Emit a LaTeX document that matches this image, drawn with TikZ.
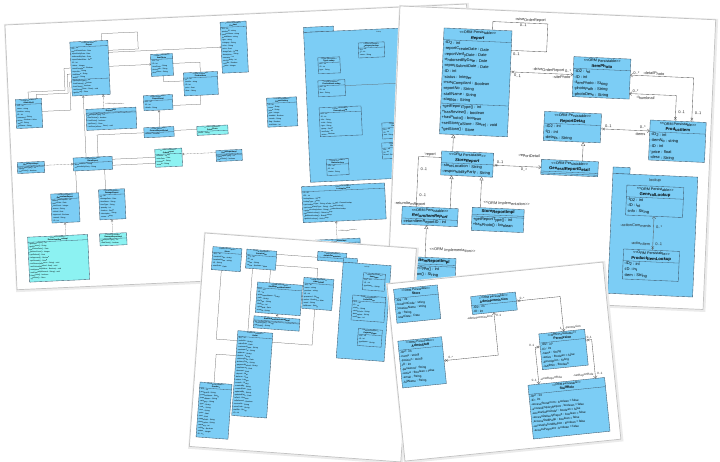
\documentclass[tikz,border=0pt]{standalone}
\usepackage{fontspec}
\setmainfont{Liberation Sans}
\usetikzlibrary{arrows.meta,calc,shapes.misc}
\definecolor{ub}{RGB}{124,205,245}
\definecolor{ubd}{RGB}{62,88,108}
\definecolor{uc}{RGB}{140,242,242}
\definecolor{ln}{RGB}{90,90,90}
\newcommand\ster{<\kern0pt<ORM Persistable>\kern0pt>}
\newcommand\simpl{<\kern0pt<ORM Implementation>\kern0pt>}
\tikzset{
 clsbox/.style={draw=ubd, line width=0.35pt, anchor=north west, inner sep=0pt, outer sep=0pt, transform shape},
 pkg/.style={draw=ubd, fill=ub, line width=0.35pt, anchor=north west, inner sep=0pt, outer sep=0pt, transform shape},
 sep/.style={draw=ubd, line width=0.3pt},
 con/.style={draw=ln, line width=0.35pt},
 nav/.style={arrows={-Straight Barb[length=2.2pt,width=3.6pt]}},
 navs/.style={arrows={Straight Barb[length=2.2pt,width=3.6pt]-}},
 gen/.style={arrows={-Triangle[length=3.6pt,width=4pt,fill=white]}},
 rz/.style={dash pattern=on 0.8pt off 0.6pt},
 xm/.style={cross out, draw=ln, line width=0.3pt, minimum size=2.2pt, inner sep=0pt, transform shape},
 stt/.style={anchor=base, inner sep=0pt, transform shape},
 ttl/.style={anchor=base, inner sep=0pt, transform shape},
 att/.style={anchor=north west, inner sep=0pt, align=left, transform shape},
 lbl/.style={inner sep=0pt, transform shape, text=black!85},
}
\newcommand\ucls[8]{%
  \node[clsbox, fill=#6, minimum width=#4, minimum height=#5] (#1) at (#2,#3) {};
  \node[stt] (#1-s) at ({#2+#4/2},{#3+\csty}) {\ster};
  \node[ttl] (#1-n) at ({#2+#4/2},{#3+\ctty}) {#7};
  \draw[sep] (#2,{#3+\chh}) -- ({#2+#4},{#3+\chh});
  \node[att] (#1-a) at ({#2+\cax},{#3+\chh+\cay}) {#8};
}
\newcommand\uimpl[8]{%
  \node[clsbox, fill=#6, minimum width=#4, minimum height=#5] (#1) at (#2,#3) {};
  \node[ttl] (#1-n) at ({#2+#4/2},{#3+\cib}) {#7};
  \draw[sep] (#2,{#3+\cis}) -- ({#2+#4},{#3+\cis});
  \draw[sep] (#2,{#3+\cis+\cig}) -- ({#2+#4},{#3+\cis+\cig});
  \node[att] (#1-a) at ({#2+\cax},{#3+\cis+\cig+\cay}) {#8};
}
\newcommand\sheet[2]{%
  \fill[black!8] (-1,-1) rectangle ({#1+2.4},{#2+2.4});
  \filldraw[fill=white, draw=black!24, line width=0.7pt] (0,0) rectangle (#1,#2);
}
\begin{document}
\begin{tikzpicture}[x=1pt,y=-1pt,line join=round]
\useasboundingbox (0,0) rectangle (720,462);
\fill[white] (0,0) rectangle (720,462);

%% ================= Sheet A (back, top left) =================
\begin{scope}[shift={(5,25)}, rotate=2.6,
  stt/.append style={font=\fontsize{1.6}{2}\selectfont},
  ttl/.append style={font=\bfseries\fontsize{1.9}{2.3}\selectfont},
  att/.append style={font=\fontsize{1.8}{2.9}\selectfont},
  lbl/.append style={font=\fontsize{1.6}{2}\selectfont},
  con/.append style={line width=0.25pt},
  nav/.style={arrows={-Straight Barb[length=1.2pt,width=2pt]}},
  gen/.style={arrows={-Triangle[length=2pt,width=2.4pt,fill=white]}}]
\def\csty{2.0}\def\ctty{4.3}\def\chh{5.2}\def\cay{0.5}\def\cax{0.8}
\def\cib{2.8}\def\cis{3.8}\def\cig{0.9}
\sheet{462}{265}
\ucls{a1}{64}{20}{38}{54}{ub}{\itshape Report}{-ID2 : int\\-reportCreateDate : Date\\-reportVerifyDate : Date\\-endorsedByDate : Date\\-reportSubmitDate : Date\\-ID : int\\-status : Integer\\-mustCompliant : Boolean\\-reportNo : String\\-staffName : String\\-staffNo : String}
\draw[sep] (64,57.7) -- (102,57.7);
\node[att] (a1-m) at (64.8,58.2) {+getReportType() : int\\+hasReview() : boolean\\+hasPhoto() : boolean\\+setStore(aStore : Store) : void\\+getStore() : Store};
\ucls{a2}{7}{75}{26}{29}{ub}{AdminStaff}{-ID2 : int\\-name : string\\-position : string\\-ID : int\\-password : String\\-active : Boolean = false\\-email : String\\-fullName : String}
\ucls{a3}{144}{36}{22}{22}{ub}{ItemPhoto}{-ID2 : int\\-ID : int\\-itemPhoto : String\\-photoPath : String\\-photoDesc : String}
\ucls{a4}{176}{56}{34}{23}{ub}{ProductItem}{-ID2 : int\\-itemNo : string\\-ID : int\\-price : float\\-desc : String}
\ucls{a5}{215}{7}{26}{51}{ub}{Product}{-ID2 : int\\-productID : string\\-productName : string\\-brandName : string\\-type : string\\-category : String\\-color : String\\-price : float\\-imagePath : String\\-description : String\\-warranty : int\\-minQuantity : int\\-onSale : Boolean\\-status : Integer}
\uimpl{a6}{77}{88}{50}{21}{ub}{ReportImpl}{+getReportType() : int\\+hasReview() : boolean\\+hasPhoto() : boolean\\+getStore() : Store\\+setStore(aStore : Store) : void}
\ucls{a7}{135}{77}{29}{15}{ub}{ReportDetail}{-ID2 : int\\-ID : int\\-details : String}
\ucls{a8}{134}{109}{30}{10}{ub}{GeneralReportDetail}{-isPhoto : Boolean}
\ucls{a9}{187}{110}{31}{9}{uc}{DetailPhoto}{-photo : String}
\ucls{a10}{62}{136}{39}{13}{ub}{\itshape StoreReport}{-storeLocation : String\\-responsibilityParty : String}
\ucls{a11}{144}{131}{27}{18}{uc}{OrderReport}{-orderNo : String\\-orderDate : Date\\-customer : String\\-remark : String}
\uimpl{a12}{205}{135}{26}{11}{ub}{OrderReportImpl}{+getReportType() : int\\+hasPhoto() : boolean}
\uimpl{a13}{6}{138}{27}{11}{ub}{StoreReportImpl}{+getReportType() : int\\+hasPhoto() : boolean}
\ucls{a14}{38}{171}{28}{29}{ub}{\itshape ReturnItemReport}{-returnItemReportID : int\\-returnDate : Date\\-itemCount : Integer\\-reason : String\\-refund : float\\-approved : Boolean\\-remark : String\\-ID : int}
\ucls{a15}{86}{169}{26}{30}{ub}{DamageReport}{-ID : int\\-damageDate : Date\\-itemName : String\\-itemType : String\\-quantity : int\\-location : String\\-description : String\\-cause : String}
\ucls{a16}{13}{213}{60}{45}{uc}{ReturnItemReportImpl}{+getReportType() : int\\+getReason() : String\\+getReturnDate() : Date\\+getItemCount() : Integer\\+getRefund() : float\\+isApproved() : Boolean\\+getRemark() : String\\+setReason(aReason : String) : void\\+setRefund(aRefund : float) : void\\+setApproved(aValue : Boolean) : void\\+setRemark(aRemark : String) : void\\+hasPhoto() : boolean\\+getStore() : Store}
\ucls{a17}{85}{213}{27}{12}{uc}{DamageReportImpl}{+getReportType() : int\\+hasPhoto() : boolean}
\node[pkg, minimum width=30, minimum height=5] (a18t) at (298,16) {};
\node[pkg, minimum width=150, minimum height=150] (a18) at (298,21) {};
\node[lbl, anchor=base] (a18n) at (373,24.5) {lookup};
\ucls{a18a}{352}{34}{26}{15}{ub}{CategoryLookup}{-ID2 : int\\-ID : int\\-name : String}
\ucls{a18b}{311}{47}{22}{16}{ub}{TypeLookup}{-ID2 : int\\-ID : int\\-type : String}
\ucls{a18c}{310}{70}{27}{16}{ub}{ProductItemLookup}{-ID2 : int\\-ID : int\\-item : String}
\ucls{a18d}{310}{97}{42}{29}{ub}{GeneralLookup}{-ID2 : int\\-ID : int\\-info : String\\-code : String\\-type : String\\-group : String\\-sortOrder : int\\-active : Boolean}
\ucls{a18e}{315}{149}{22}{16}{ub}{StatusLookup}{-ID2 : int\\-ID : int\\-status : String}
\ucls{a18f}{372}{115}{30}{16}{ub}{UnitLookup}{-ID2 : int\\-ID : int\\-unit : String}
\ucls{a18g}{371}{135}{30}{16}{ub}{BrandLookup}{-ID2 : int\\-ID : int\\-brand : String}
\ucls{a19}{258}{85}{30}{29}{ub}{ReportSetting}{-ID : int\\-name : String\\-value : String\\-type : Integer\\-enabled : Boolean\\-remark : String\\-flag : Boolean\\-sortOrder : int}
\ucls{a20}{289}{175}{83}{36}{ub}{LookupService}{-ID : int\\-ID2 : int\\-lookupName : String\\-lookupType : String\\+getLookup(aType : String, aCode : String) : GeneralLookup\\+getLookupList(aType : String) : GeneralLookup[]\\+getItemLookup(aItem : String) : ProductItemLookup\\+getStatusLookup() : StatusLookup\\+getBrandLookup() : BrandLookup\\+getUnitLookup() : UnitLookup}
\uimpl{a21}{300}{229}{45}{10}{ub}{LookupServiceImpl}{+getLookup(aType : String) : GeneralLookup}
\coordinate (a18x) at (400,76);
% connectors A
\draw[con] ($(a1.north west)!26pt!(a1.south west)$) -- (57,46) -- (57,68) -- (20,68) -- ($(a2.north west)!13pt!(a2.north east)$);
\draw[con] ($(a1.north west)!32pt!(a1.south west)$) -- (60,52) -- (60,71) -- (28,71) -- ($(a2.north west)!21pt!(a2.north east)$);
\draw[con] ($(a1.north west)!40pt!(a1.south west)$) -- (62,60) -- (62,88) -- ($(a2.north east)!13pt!(a2.south east)$);
\draw[con] ($(a1.north west)!32pt!(a1.north east)$) -- (96,13) -- (132,13) -- (132,30) -- ($(a1.north east)!10pt!(a1.south east)$);
\draw[con,nav] ($(a1.north east)!12pt!(a1.south east)$) -- ($(a5.north west)!25pt!(a5.south west)$);
\draw[con,nav] ($(a1.north east)!26pt!(a1.south east)$) -- ($(a3.north west)!10pt!(a3.south west)$);
\draw[con] ($(a3.north east)!10pt!(a3.south east)$) -- (193,46) -- ($(a4.north west)!17pt!(a4.north east)$);
\draw[con] ($(a3.south west)!12pt!(a3.south east)$) -- (156,64) -- ($(a4.north west)!8pt!(a4.south west)$);
\draw[con] ($(a7.north east)!11pt!(a7.south east)$) -- (192,88) -- ($(a4.south west)!16pt!(a4.south east)$);
\draw[con,gen] ($(a8.north west)!16pt!(a8.north east)$) -- ($(a7.south west)!15pt!(a7.south east)$);
\draw[con,gen,rz] ($(a6.north west)!18pt!(a6.north east)$) -- ($(a1.south west)!31pt!(a1.south east)$);
\node[lbl, anchor=west] (al2) at (96.5,84) {\simpl};
\draw[con,gen] ($(a10.north west)!13pt!(a10.north east)$) -- ($(a1.south west)!11pt!(a1.south east)$);
\draw[con] ($(a10.north west)!25pt!(a10.north east)$) -- (87,114) -- ($(a8.north west)!5pt!(a8.south west)$);
\draw[con] ($(a8.north east)!4pt!(a8.south east)$) -- ($(a9.north west)!3pt!(a9.south west)$);
\draw[con] ($(a10.north east)!3pt!(a10.south east)$) -- ($(a11.north west)!8pt!(a11.south west)$);
\draw[con] ($(a10.north east)!9pt!(a10.south east)$) -- ($(a11.north west)!14pt!(a11.south west)$);
\draw[con,gen,rz] ($(a12.north west)!2pt!(a12.south west)$) -- ($(a11.north east)!6pt!(a11.south east)$);
\draw[con,gen,rz] ($(a13.north east)!4pt!(a13.south east)$) -- ($(a10.north west)!6pt!(a10.south west)$);
\draw[con] ($(a10.south west)!2pt!(a10.south east)$) -- ($(a14.north west)!26pt!(a14.north east)$);
\draw[con] ($(a10.south west)!31pt!(a10.south east)$) -- ($(a15.north west)!7pt!(a15.north east)$);
\draw[con,gen,rz] ($(a16.north west)!38pt!(a16.north east)$) -- ($(a14.south west)!13pt!(a14.south east)$);
\draw[con,gen,rz] ($(a17.north west)!13pt!(a17.north east)$) -- ($(a15.south west)!12pt!(a15.south east)$);
\draw[con] ($(a18c.north east)!6pt!(a18c.south east)$) -- (a18x);
\draw[con,gen,rz] ($(a21.north west)!22pt!(a21.north east)$) -- ($(a20.south west)!33pt!(a20.south east)$);
\node[lbl, anchor=west] (al1) at (323.5,221) {\simpl};
\end{scope}

%% ================= Sheet D (top right) =================
\begin{scope}[shift={(400,6)}, rotate=-2.5,
  stt/.append style={font=\fontsize{3.7}{4}\selectfont},
  ttl/.append style={font=\bfseries\fontsize{4.2}{5}\selectfont},
  att/.append style={font=\fontsize{4.0}{5.7}\selectfont},
  lbl/.append style={font=\fontsize{3.9}{4.5}\selectfont}]
\def\csty{4.4}\def\ctty{10.0}\def\chh{11.7}\def\cay{1.0}\def\cax{1.2}
\def\cib{4.8}\def\cis{6.8}\def\cig{1.8}
\sheet{316}{290}
\ucls{rep}{45}{20}{68}{106}{ub}{\itshape Report}{-ID2 : int\\-reportCreateDate : Date\\-reportVerifyDate : Date\\-endorsedByDate : Date\\-reportSubmitDate : Date\\-ID : int\\-status : Integer\\-mustCompliant : Boolean\\-reportNo : String\\-staffName : String\\-staffNo : String}
\draw[sep] (45,95.2) -- (113,95.2);
\node[att] (rep-m) at (46.2,96.2) {+getReportType() : int\\+hasReview() : boolean\\+hasPhoto() : boolean\\+setStore(aStore : Store) : void\\+getStore() : Store};
\ucls{ip}{176}{43}{57}{40}{ub}{ItemPhoto}{-ID2 : int\\-ID : int\\-itemPhoto : String\\-photoPath : String\\-photoDesc : String}
\ucls{pitem}{255}{103}{56}{40}{ub}{ProductItem}{-ID2 : int\\-itemNo : string\\-ID : int\\-price : float\\-desc : String}
\ucls{rd}{149}{99}{57}{29}{ub}{ReportDetail}{-ID2 : int\\-ID : int\\-details : String}
\ucls{sr}{48}{143}{52}{24}{ub}{\itshape StoreReport}{-storeLocation : String\\-responsibilityParty : String}
\ucls{grd}{148}{147}{57}{15}{ub}{GeneralReportDetail}{}
\draw[sep] (148,160.5) -- (205,160.5);
\ucls{rir}{11}{200}{56}{18}{ub}{\itshape ReturnItemReport}{-returnItemReportID : int}
\uimpl{sri}{81}{198}{52}{23}{ub}{StoreReportImpl}{+getReportType() : int\\+hasPhoto() : boolean}
\uimpl{riri}{10}{250}{57}{23}{ub}{ReturnItemReportImpl}{+getReportType() : int\\+getReason() : String}
\node[pkg, minimum width=17, minimum height=6.5] (lkt) at (220,151.5) {};
\node[pkg, minimum width=85, minimum height=120] (lk) at (220,158) {};
\node[lbl, anchor=base] (lkn) at (262.5,164) {lookup};
\ucls{gl}{234.5}{169}{57}{30}{ub}{GeneralLookup}{-ID2 : int\\-ID : int\\-info : String}
\ucls{pil}{234}{233}{56}{30}{ub}{ProductItemLookup}{-ID2 : int\\-ID : int\\-item : String}
% connectors D
\draw[con] ($(rep.north west)!48.5pt!(rep.north east)$) -- (93.5,11.5) -- (148.5,11.5) -- (148.5,39.5) -- ($(rep.north east)!19.5pt!(rep.south east)$);
\node[lbl,anchor=south] (d1) at (131,10.6) {-wiseOrderReport};
\node[lbl,anchor=north] (d2) at (124,12.6) {0..1};
\node[lbl,anchor=north west] (d3) at (115,41.3) {0..1};
\draw[con,nav] ($(rep.north east)!41pt!(rep.south east)$) -- ($(ip.north west)!18pt!(ip.south west)$);
\node[xm] (dx1) at (115.8,61) {};
\node[lbl,anchor=north west] (d4) at (117,63) {0..1};
\node[lbl,anchor=south east] (d5) at (174,59.8) {-driveOrderReport 0..*};
\node[lbl,anchor=north east] (d6) at (173.5,62.5) {-sitePhoto};
\draw[con,navs] ($(ip.north east)!16pt!(ip.south east)$) -- (296.5,59) -- ($(pitem.north west)!41.5pt!(pitem.north east)$);
\node[xm] (dx2) at (296.5,100.4) {};
\node[lbl,anchor=south west] (d7) at (236,58) {0..*};
\node[lbl,anchor=south west] (d8) at (246,58) {-detailPhoto};
\node[lbl,anchor=west] (d9) at (299,94) {0..1};
\draw[con,navs] ($(ip.north east)!34.5pt!(ip.south east)$) -- (280,77.5) -- ($(pitem.north west)!25pt!(pitem.north east)$);
\node[xm] (dx3) at (280,100.4) {};
\node[lbl,anchor=south west] (d10) at (236,76.6) {0..*};
\node[lbl,anchor=north west] (d11) at (240,79.5) {-thumbnail};
\node[lbl,anchor=west] (d12) at (282.5,94) {0..1};
\draw[con,nav] ($(rd.north east)!15pt!(rd.south east)$) -- ($(pitem.north west)!11pt!(pitem.south west)$);
\node[xm] (dx4) at (208.8,114) {};
\node[lbl,anchor=south west] (d13) at (210,112.3) {0..1};
\node[lbl,anchor=south east] (d14) at (251,112.3) {0..*};
\node[lbl,anchor=north east] (d15) at (251,116) {-items};
\draw[con,gen] ($(sr.north west)!11pt!(sr.north east)$) -- ($(rep.south west)!14pt!(rep.south east)$);
\draw[con,gen] ($(grd.north west)!41pt!(grd.north east)$) -- ($(rd.south west)!40pt!(rd.south east)$);
\draw[con,nav] ($(sr.north east)!12pt!(sr.south east)$) -- ($(grd.north west)!8pt!(grd.south west)$);
\node[xm] (dx5) at (102.8,155) {};
\node[lbl,anchor=south east] (d16) at (146.5,146.5) {-reportDetail};
\node[lbl,anchor=south west] (d17) at (103.5,153.6) {0..1};
\node[lbl,anchor=north] (d18) at (131,156.6) {0..*};
\draw[con] ($(sr.north west)!6.5pt!(sr.south west)$) -- (25,149.5) -- ($(rir.north west)!14pt!(rir.north east)$);
\node[lbl,anchor=south] (d19) at (36.5,148.8) {-report};
\node[lbl,anchor=west] (d20) at (27.5,162) {0..1};
\node[lbl,anchor=west] (d21) at (27.5,188) {0..1};
\node[lbl,anchor=south west] (d22) at (3,199.4) {-returnItemReport};
\draw[con,gen] ($(rir.north west)!48pt!(rir.north east)$) -- ($(sr.south west)!11pt!(sr.south east)$);
\draw[con,gen] ($(sri.north west)!8pt!(sri.north east)$) -- ($(sr.south west)!41pt!(sr.south east)$);
\node[lbl,anchor=west] (d23) at (92,193) {\simpl};
\draw[con,gen] ($(riri.north west)!26pt!(riri.north east)$) -- ($(rir.south west)!25pt!(rir.south east)$);
\node[lbl,anchor=west] (d24) at (40,242) {\simpl};
\draw[con,nav] ($(pil.north west)!29pt!(pil.north east)$) -- ($(gl.south west)!28.5pt!(gl.south east)$);
\node[xm] (dx6) at (263,230.4) {};
\node[lbl,anchor=east] (d25) at (260.5,209) {-actionComments};
\node[lbl,anchor=west] (d26) at (265.5,210) {0..*};
\node[lbl,anchor=east] (d27) at (260.5,227) {-actionItem};
\node[lbl,anchor=west] (d28) at (265.5,227) {0..1};
\end{scope}

%% ================= Sheet C (bottom middle) =================
\begin{scope}[shift={(205,233)}, rotate=-4.2,
  stt/.append style={font=\fontsize{1.7}{2}\selectfont},
  ttl/.append style={font=\bfseries\fontsize{2.0}{2.4}\selectfont},
  att/.append style={font=\fontsize{1.9}{3.0}\selectfont},
  lbl/.append style={font=\fontsize{1.7}{2}\selectfont},
  con/.append style={line width=0.25pt},
  gen/.style={arrows={-Triangle[length=2pt,width=2.4pt,fill=white]}}]
\def\csty{2.1}\def\ctty{4.6}\def\chh{5.6}\def\cay{0.5}\def\cax{0.8}
\def\cib{2.9}\def\cis{4.0}\def\cig{0.9}
\sheet{212}{214}
\ucls{c1}{9}{13}{29}{23}{ub}{Store}{-ID2 : int\\-locationCode : string\\-locationName : string\\-ID : String\\-startDate : Date}
\ucls{c2}{43}{13}{30}{19}{ub}{Permission}{-ID2 : int\\-ID : int\\-name : String\\-active : Boolean = false}
\ucls{c3}{114}{10}{29}{9}{ub}{AdminPermission}{}
\ucls{c4}{56}{45}{45}{30.5}{ub}{StaffReportAttachment}{-ID2 : int\\-ID : int\\-attachmentName : String\\-path : String\\-fileType : String\\-fileSize : int\\-uploaded : Date\\-remark : String}
\uimpl{c5}{55}{79}{46}{12}{ub}{StaffReportAttachmentImpl}{+getFileType() : String\\+getPath() : String}
\ucls{c6}{102}{37}{30}{31}{ub}{AdminStaff}{-ID2 : int\\-name : string\\-position : string\\-ID : int\\-password : String\\-active : Boolean = false\\-email : String\\-fullName : String}
\ucls{c7}{40}{95}{35}{85}{ub}{Order}{-ID2 : int\\-orderNo : String\\-orderDate : Date\\-customerName : String\\-customerTel : String\\-address : String\\-district : String\\-deliveryDate : Date\\-deliveryTime : String\\-paymentMethod : String\\-totalAmount : float\\-discount : float\\-deposit : float\\-balance : float\\-status : Integer\\-remark : String\\-createdBy : String\\-createdDate : Date\\-updatedBy : String\\-updatedDate : Date\\-isPaid : Boolean\\-isDelivered : Boolean\\-invoiceNo : String\\-storeCode : String\\-staffNo : String\\-ID : int}
\ucls{c8}{6}{149}{32}{55}{ub}{Product}{-ID2 : int\\-productID : String\\-productName : String\\-brandName : String\\-category : String\\-type : String\\-color : String\\-size : String\\-price : float\\-cost : float\\-imagePath : String\\-description : String\\-warranty : int\\-onSale : Boolean\\-status : Integer\\-ID : int}
\node[pkg, minimum width=14, minimum height=4.5] (cpt) at (140,14.5) {};
\node[pkg, minimum width=48, minimum height=96] (cp) at (140,19) {};
\node[lbl, anchor=base] (cpn) at (164,22.5) {lookup};
\ucls{c9}{161}{28}{22}{17}{ub}{ItemType}{-ID2 : int\\-ID : int\\-typeName : String}
\ucls{c10}{152}{51}{33}{25}{ub}{OrderStatus}{-ID2 : int\\-ID : int\\-status : String\\-statusCode : String\\-description : String\\-sortOrder : int}
\ucls{c11}{160}{84}{24}{17}{ub}{PaymentType}{-ID2 : int\\-ID : int\\-typeName : String}
\draw[con] ($(c1.south west)!10pt!(c1.south east)$) -- (19,105) -- ($(c7.north west)!10pt!(c7.south west)$);
\draw[con] ($(c2.south west)!7pt!(c2.south east)$) -- ($(c7.north west)!10pt!(c7.north east)$);
\draw[con] ($(c2.south west)!25pt!(c2.south east)$) -- ($(c4.north west)!12pt!(c4.north east)$);
\draw[con] ($(c2.north east)!14pt!(c2.south east)$) -- (115,27) -- ($(c6.north west)!13pt!(c6.north east)$);
\draw[con] ($(c2.north east)!3pt!(c2.south east)$) -- ($(c3.north west)!6pt!(c3.south west)$);
\draw[con,gen,rz] ($(c5.north west)!23pt!(c5.north east)$) -- ($(c4.south west)!22pt!(c4.south east)$);
\draw[con] ($(c6.south west)!13pt!(c6.south east)$) -- (115,104) -- ($(c7.north east)!9pt!(c7.south east)$);
\draw[con] ($(c7.north west)!25pt!(c7.south west)$) -- (20,120) -- ($(c8.north west)!14pt!(c8.north east)$);
\end{scope}

%% ================= Sheet E (front, bottom right) =================
\begin{scope}[shift={(387,284)}, rotate=5.8,
  stt/.append style={font=\fontsize{2.9}{3.2}\selectfont},
  ttl/.append style={font=\bfseries\fontsize{3.3}{3.8}\selectfont},
  att/.append style={font=\fontsize{3.0}{4.3}\selectfont},
  lbl/.append style={font=\fontsize{3.0}{3.4}\selectfont}]
\def\csty{3.4}\def\ctty{7.4}\def\chh{9.2}\def\cay{0.7}\def\cax{1.0}
\sheet{217}{178}
\ucls{st}{6}{6}{44}{34}{ub}{Store}{-ID2 : int\\-locationCode : string\\-locationName : string\\-ID : String\\-startDate : Date}
\ucls{ap}{82}{21}{45}{18}{ub}{AdminPermission}{-ID2 : int\\-ID : int}
\ucls{as}{5}{58}{44}{47}{ub}{AdminStaff}{-ID2 : int\\-name : string\\-position : string\\-ID : int\\-password : String\\-active : Boolean = false\\-email : String\\-fullName : String}
\ucls{perm}{146}{65}{46}{36}{ub}{Permission}{-ID2 : int\\-ID : int\\-name : String\\-active : Boolean = false\\-description : String\\-isAdmin : Boolean}
\ucls{srole}{130}{115}{77}{54}{ub}{StaffRole}{-ID2 : int\\-ID : int\\-accessStoreFront : boolean = false\\-accessEnquiryReport : boolean = false\\-accessSalesOrder : boolean = false\\-accessDeliveryReport : boolean = false\\-accessStaffPage : boolean = false\\-accessRefundReport : boolean = false\\-accessPayment : boolean = false}
\draw[con,navs] ($(ap.south west)!21.5pt!(ap.south east)$) -- (103.5,82) -- ($(as.north east)!24pt!(as.south east)$);
\node[xm] (ex1) at (51.5,82) {};
\node[lbl,anchor=north east] (e1) at (101.8,41.5) {-adminPermissions};
\node[lbl,anchor=north west] (e2) at (105.2,41.5) {0..1};
\node[lbl,anchor=south west] (e3) at (53.5,81) {0..*};
\draw[con,nav] ($(ap.north east)!9pt!(ap.south east)$) -- (171,30) -- ($(perm.north west)!25pt!(perm.north east)$);
\node[xm] (ex2) at (129.5,30) {};
\node[lbl,anchor=south west] (e4) at (130.5,29) {0..*};
\node[lbl,anchor=east] (e5) at (169.5,62) {1};
\node[lbl,anchor=west] (e6) at (172.8,62) {-permission};
\draw[con,nav] ($(perm.north west)!13pt!(perm.south west)$) -- (141,78) -- ($(srole.north west)!11pt!(srole.north east)$);
\node[xm] (ex3) at (143.7,78) {};
\node[lbl,anchor=south east] (e7) at (140.5,77) {0..1};
\node[lbl,anchor=east] (e8) at (139.5,110.5) {0..1};
\node[lbl,anchor=west] (e9) at (142.5,110.5) {-viewReportRole};
\draw[con,nav] ($(perm.north east)!11pt!(perm.south east)$) -- (198,76) -- ($(srole.north west)!68pt!(srole.north east)$);
\node[xm] (ex4) at (194.5,76) {};
\node[lbl,anchor=south west] (e10) at (193,75) {0..1};
\node[lbl,anchor=west] (e11) at (200,110.5) {0..1};
\node[lbl,anchor=east] (e12) at (196.5,110.5) {-setReportRole};
\end{scope}
\end{tikzpicture}
\end{document}
